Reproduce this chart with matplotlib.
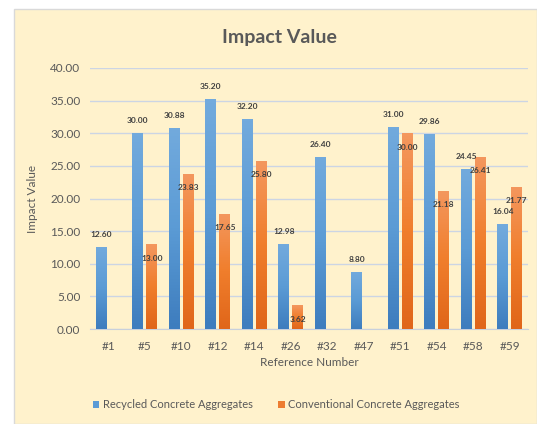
import numpy as np
import matplotlib
matplotlib.use("Agg")
import matplotlib.pyplot as plt
from matplotlib.patches import Rectangle
from matplotlib.colors import LinearSegmentedColormap

# Chart data
categories = ["#1", "#5", "#10", "#12", "#14", "#26", "#32", "#47", "#51", "#54", "#58", "#59"]
recycled = [12.60, 30.00, 30.88, 35.20, 32.20, 12.98, 26.40, 8.80, 31.00, 29.86, 24.45, 16.04]
conventional = [None, 13.00, 23.83, 17.65, 25.80, 3.62, None, None, 30.00, 21.18, 26.41, 21.77]
y_ticks = [0, 5, 10, 15, 20, 25, 30, 35, 40]

plt.rcParams["font.family"] = ["Lato", "DejaVu Sans"]

TEXT = "#595959"
BLUE = "#5B9BD5"
ORANGE = "#ED7D31"

# Excel-like vertical gradients (bottom -> top)
blue_grad = LinearSegmentedColormap.from_list("bg", ["#3E7DBE", "#5B9BD5", "#72AADD"])
orange_grad = LinearSegmentedColormap.from_list("og", ["#E0661A", "#F07E2C", "#F4975E"])
grad = np.linspace(0, 1, 64).reshape(-1, 1)


def shade_bars(ax, bars, cmap):
    # paint each bar with a vertical gradient clipped to its rectangle
    for b in bars:
        h = b.get_height()
        if h <= 0:
            continue
        x0 = b.get_x()
        im = ax.imshow(grad, cmap=cmap, origin="lower", aspect="auto",
                       extent=[x0, x0 + b.get_width(), 0, h], zorder=3.5)
        im.set_clip_path(b)


fig = plt.figure(figsize=(5.37, 4.24), dpi=100)
fig.patch.set_facecolor("white")

# cream chart area with thin border (drawn behind the axes)
bg = Rectangle((14 / 537, 0), 1 - 14 / 537, 1 - 9 / 424,
               transform=fig.transFigure, facecolor="#FFF2CC",
               edgecolor="#D9D9D9", linewidth=1.0, zorder=-10)
fig.add_artist(bg)

ax = fig.add_axes([90 / 537, 1 - 329 / 424, 438 / 537, 261 / 424])
ax.set_facecolor("none")

x = np.arange(len(categories))
w = 0.30
off = 0.19

rec_vals = np.array(recycled, dtype=float)
con_vals = np.array([np.nan if v is None else v for v in conventional], dtype=float)

b1 = ax.bar(x - off, rec_vals, width=w, color=BLUE, label="Recycled Concrete Aggregates", zorder=3)
b2 = ax.bar(x + off, np.nan_to_num(con_vals), width=w, color=ORANGE,
            label="Conventional Concrete Aggregates", zorder=3)
shade_bars(ax, b1, blue_grad)
shade_bars(ax, b2, orange_grad)

# data labels
for xi, v in zip(x, rec_vals):
    ax.annotate(f"{v:.2f}", (xi - off, v), xytext=(0, 9), textcoords="offset points",
                ha="center", va="center", fontsize=6, color="#404040",
                fontweight="bold", zorder=5)
for xi, v in zip(x, con_vals):
    if np.isnan(v):
        continue
    ax.annotate(f"{v:.2f}", (xi + off, v), xytext=(0, -10), textcoords="offset points",
                ha="center", va="center", fontsize=6, color="#404040",
                fontweight="bold", zorder=5)

ax.set_xlim(-0.5, len(categories) - 0.5)
ax.set_ylim(0, 40)
ax.set_yticks(y_ticks)
ax.set_yticklabels([f"{t:.2f}" for t in y_ticks])
ax.set_xticks(x)
ax.set_xticklabels(categories)
ax.tick_params(axis="both", length=0, labelsize=8.5, labelcolor=TEXT)
ax.tick_params(axis="y", pad=7)
ax.tick_params(axis="x", pad=9)

ax.grid(axis="y", color="#CCD5E4", linewidth=1.0, zorder=0)
ax.set_axisbelow(True)
for s in ["top", "right", "left"]:
    ax.spines[s].set_visible(False)
ax.spines["bottom"].set_color("#C8D0DC")

ax.set_ylabel("Impact Value", fontsize=8.5, color=TEXT, labelpad=9)
ax.set_xlabel("Reference Number", fontsize=8.5, color=TEXT, labelpad=3)

fig.text(279 / 537, 1 - 37 / 424, "Impact Value", ha="center", va="center",
         fontsize=14, fontweight="bold", color=TEXT)

fig.legend(loc="center", bbox_to_anchor=(276 / 537, 1 - 405 / 424), ncol=2,
           frameon=False, fontsize=8, labelcolor=TEXT, handlelength=0.6,
           handleheight=0.6, handletextpad=0.3, columnspacing=2.3)

fig.savefig("out.png", dpi=100, facecolor=fig.get_facecolor())
